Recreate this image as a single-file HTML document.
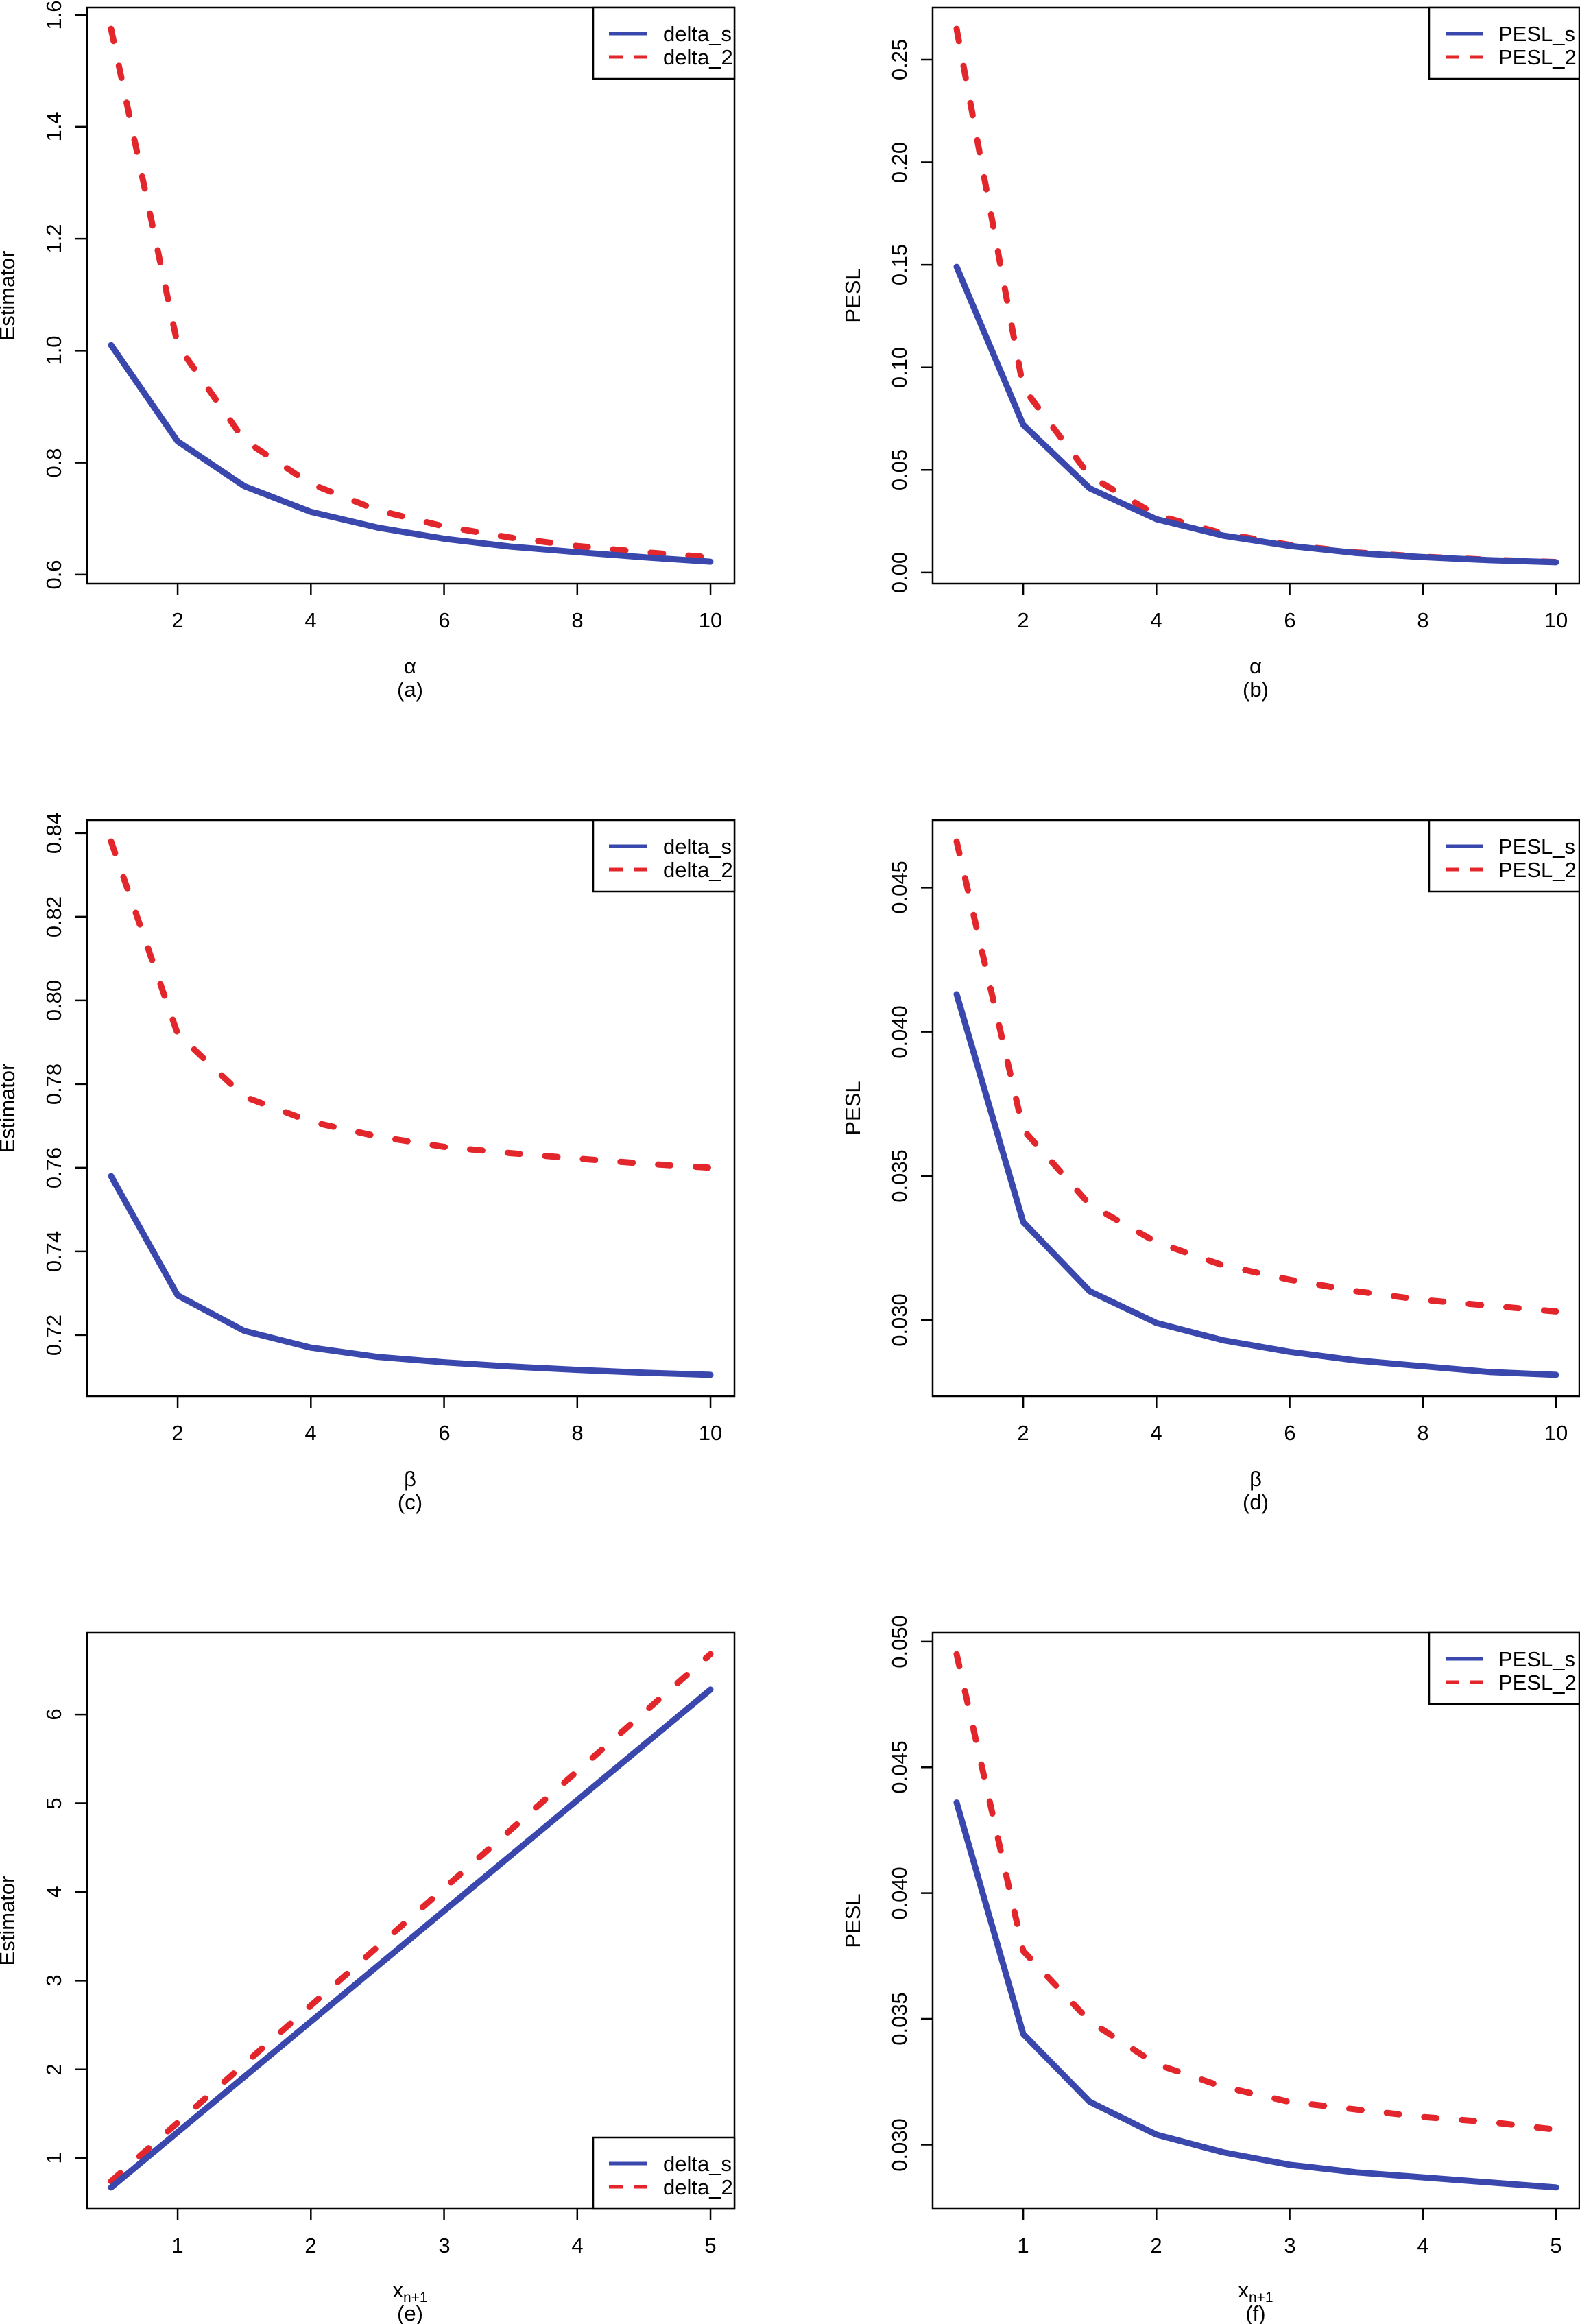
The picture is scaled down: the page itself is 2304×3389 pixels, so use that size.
<!DOCTYPE html>
<html><head><meta charset="utf-8">
<style>
html,body{margin:0;padding:0;background:#fff;}
svg{display:block;}
text{font-family:"Liberation Sans",Arial,sans-serif;font-size:31px;fill:#000;}
</style></head>
<body>
<svg id="s" width="2304" height="3389" viewBox="0 0 2304 3389" xmlns="http://www.w3.org/2000/svg">
<rect width="2304" height="3389" fill="#fff"/>
<g stroke="#000" stroke-width="2.5" fill="none">
<rect x="127" y="11" width="944" height="840"/>
<rect x="1360" y="11" width="943" height="840"/>
<rect x="127" y="1196" width="944" height="840"/>
<rect x="1360" y="1196" width="943" height="840"/>
<rect x="127" y="2381" width="944" height="840"/>
<rect x="1360" y="2381" width="943" height="840"/>
</g>
<g id="ticks" stroke="#000" stroke-width="2.5"></g>
<g id="series"></g>

<!-- Panel a -->
<g text-anchor="middle">
<text x="259" y="915">2</text><text x="453" y="915">4</text><text x="648" y="915">6</text><text x="842" y="915">8</text><text x="1036" y="915">10</text>
<text x="598" y="982">α</text><text x="598" y="1016">(a)</text>
<text transform="translate(89,838) rotate(-90)">0.6</text>
<text transform="translate(89,675) rotate(-90)">0.8</text>
<text transform="translate(89,511) rotate(-90)">1.0</text>
<text transform="translate(89,348) rotate(-90)">1.2</text>
<text transform="translate(89,185) rotate(-90)">1.4</text>
<text transform="translate(89,22) rotate(-90)">1.6</text>
<text transform="translate(21,431) rotate(-90)">Estimator</text>
</g>
<!-- Panel b -->
<g text-anchor="middle">
<text x="1492" y="915">2</text><text x="1686" y="915">4</text><text x="1881" y="915">6</text><text x="2075" y="915">8</text><text x="2269" y="915">10</text>
<text x="1831" y="982">α</text><text x="1831" y="1016">(b)</text>
<text transform="translate(1322,835) rotate(-90)">0.00</text>
<text transform="translate(1322,685) rotate(-90)">0.05</text>
<text transform="translate(1322,536) rotate(-90)">0.10</text>
<text transform="translate(1322,386) rotate(-90)">0.15</text>
<text transform="translate(1322,237) rotate(-90)">0.20</text>
<text transform="translate(1322,87) rotate(-90)">0.25</text>
<text transform="translate(1254,431) rotate(-90)">PESL</text>
</g>
<!-- Panel c -->
<g text-anchor="middle">
<text x="259" y="2100">2</text><text x="453" y="2100">4</text><text x="648" y="2100">6</text><text x="842" y="2100">8</text><text x="1036" y="2100">10</text>
<text x="598" y="2167">β</text><text x="598" y="2201">(c)</text>
<text transform="translate(89,1947) rotate(-90)">0.72</text>
<text transform="translate(89,1825) rotate(-90)">0.74</text>
<text transform="translate(89,1703) rotate(-90)">0.76</text>
<text transform="translate(89,1581) rotate(-90)">0.78</text>
<text transform="translate(89,1459) rotate(-90)">0.80</text>
<text transform="translate(89,1337) rotate(-90)">0.82</text>
<text transform="translate(89,1215) rotate(-90)">0.84</text>
<text transform="translate(21,1616) rotate(-90)">Estimator</text>
</g>
<!-- Panel d -->
<g text-anchor="middle">
<text x="1492" y="2100">2</text><text x="1686" y="2100">4</text><text x="1881" y="2100">6</text><text x="2075" y="2100">8</text><text x="2269" y="2100">10</text>
<text x="1831" y="2167">β</text><text x="1831" y="2201">(d)</text>
<text transform="translate(1322,1925) rotate(-90)">0.030</text>
<text transform="translate(1322,1715) rotate(-90)">0.035</text>
<text transform="translate(1322,1505) rotate(-90)">0.040</text>
<text transform="translate(1322,1294) rotate(-90)">0.045</text>
<text transform="translate(1254,1616) rotate(-90)">PESL</text>
</g>
<!-- Panel e -->
<g text-anchor="middle">
<text x="259" y="3285">1</text><text x="453" y="3285">2</text><text x="648" y="3285">3</text><text x="842" y="3285">4</text><text x="1036" y="3285">5</text>
<text x="598" y="3350">x<tspan font-size="21" dy="7">n+1</tspan></text><text x="598" y="3384">(e)</text>
<text transform="translate(89,3147) rotate(-90)">1</text>
<text transform="translate(89,3018) rotate(-90)">2</text>
<text transform="translate(89,2888) rotate(-90)">3</text>
<text transform="translate(89,2759) rotate(-90)">4</text>
<text transform="translate(89,2630) rotate(-90)">5</text>
<text transform="translate(89,2500) rotate(-90)">6</text>
<text transform="translate(21,2801) rotate(-90)">Estimator</text>
</g>
<!-- Panel f -->
<g text-anchor="middle">
<text x="1492" y="3285">1</text><text x="1686" y="3285">2</text><text x="1881" y="3285">3</text><text x="2075" y="3285">4</text><text x="2269" y="3285">5</text>
<text x="1831" y="3350">x<tspan font-size="21" dy="7">n+1</tspan></text><text x="1831" y="3384">(f)</text>
<text transform="translate(1322,3128) rotate(-90)">0.030</text>
<text transform="translate(1322,2944) rotate(-90)">0.035</text>
<text transform="translate(1322,2761) rotate(-90)">0.040</text>
<text transform="translate(1322,2577) rotate(-90)">0.045</text>
<text transform="translate(1322,2394) rotate(-90)">0.050</text>
<text transform="translate(1254,2801) rotate(-90)">PESL</text>
</g>

<!-- Legends -->
<g stroke="#000" stroke-width="2.5" fill="#fff">
<rect x="865" y="11" width="206" height="104"/>
<rect x="2084" y="11" width="219" height="104"/>
<rect x="865" y="1196" width="206" height="104"/>
<rect x="2084" y="1196" width="219" height="104"/>
<rect x="865" y="3117" width="206" height="104"/>
<rect x="2084" y="2381" width="219" height="104"/>
</g>
<g stroke-width="5">
<line x1="888" y1="49" x2="944" y2="49" stroke="#3a47ad"/>
<line x1="888" y1="83" x2="944" y2="83" stroke="#e3262b" stroke-dasharray="20 16"/>
<line x1="2108" y1="49" x2="2162" y2="49" stroke="#3a47ad"/>
<line x1="2108" y1="83" x2="2162" y2="83" stroke="#e3262b" stroke-dasharray="20 16"/>
<line x1="888" y1="1234" x2="944" y2="1234" stroke="#3a47ad"/>
<line x1="888" y1="1268" x2="944" y2="1268" stroke="#e3262b" stroke-dasharray="20 16"/>
<line x1="2108" y1="1234" x2="2162" y2="1234" stroke="#3a47ad"/>
<line x1="2108" y1="1268" x2="2162" y2="1268" stroke="#e3262b" stroke-dasharray="20 16"/>
<line x1="888" y1="3155" x2="944" y2="3155" stroke="#3a47ad"/>
<line x1="888" y1="3189" x2="944" y2="3189" stroke="#e3262b" stroke-dasharray="20 16"/>
<line x1="2108" y1="2419" x2="2162" y2="2419" stroke="#3a47ad"/>
<line x1="2108" y1="2453" x2="2162" y2="2453" stroke="#e3262b" stroke-dasharray="20 16"/>
</g>
<g>
<text x="967" y="60">delta_s</text><text x="967" y="94">delta_2</text>
<text x="2185" y="60">PESL_s</text><text x="2185" y="94">PESL_2</text>
<text x="967" y="1245">delta_s</text><text x="967" y="1279">delta_2</text>
<text x="2185" y="1245">PESL_s</text><text x="2185" y="1279">PESL_2</text>
<text x="967" y="3166">delta_s</text><text x="967" y="3200">delta_2</text>
<text x="2185" y="2430">PESL_s</text><text x="2185" y="2464">PESL_2</text>
</g>
</svg>
<script>
(function(){
var NS="http://www.w3.org/2000/svg";
var T=document.getElementById("ticks"),S=document.getElementById("series");
function ln(g,x1,y1,x2,y2){var l=document.createElementNS(NS,"line");l.setAttribute("x1",x1);l.setAttribute("y1",y1);l.setAttribute("x2",x2);l.setAttribute("y2",y2);g.appendChild(l);}
var X10=[1,2,3,4,5,6,7,8,9,10],X5=[0.5,1,1.5,2,2.5,3,3.5,4,4.5,5];
var P=[
{x0:127,y0:11,xs:X10,xl:[0.64,10.36],xt:[2,4,6,8,10],yl:[0.5839,1.6131],yt:[0.6,0.8,1.0,1.2,1.4,1.6],
 a:[1.01,0.838,0.758,0.712,0.684,0.664,0.650,0.640,0.631,0.623],
 b:[1.575,1.01,0.84,0.762,0.715,0.686,0.666,0.651,0.640,0.631]},
{x0:1360,y0:11,xs:X10,xl:[0.64,10.36],xt:[2,4,6,8,10],yl:[-0.0054,0.2754],yt:[0,0.05,0.1,0.15,0.2,0.25],
 a:[0.149,0.072,0.041,0.026,0.018,0.013,0.0095,0.0075,0.006,0.005],
 b:[0.265,0.09,0.047,0.028,0.019,0.0135,0.0098,0.0077,0.0062,0.0051]},
{x0:127,y0:1196,xs:X10,xl:[0.64,10.36],xt:[2,4,6,8,10],yl:[0.7054,0.8431],yt:[0.72,0.74,0.76,0.78,0.80,0.82,0.84],
 a:[0.758,0.7295,0.721,0.717,0.7148,0.7135,0.7125,0.7117,0.7110,0.7105],
 b:[0.838,0.792,0.777,0.771,0.7675,0.765,0.7635,0.7622,0.761,0.760]},
{x0:1360,y0:1196,xs:X10,xl:[0.64,10.36],xt:[2,4,6,8,10],yl:[0.02736,0.04734],yt:[0.03,0.035,0.04,0.045],
 a:[0.0413,0.0334,0.0310,0.0299,0.0293,0.0289,0.0286,0.0284,0.0282,0.0281],
 b:[0.0466,0.0366,0.0340,0.0327,0.0319,0.0314,0.0310,0.0307,0.0305,0.0303]},
{x0:127,y0:2381,xs:X5,xl:[0.32,5.18],xt:[1,2,3,4,5],yl:[0.4296,6.9204],yt:[1,2,3,4,5,6],
 a:X5.map(function(v){return 0.67+(v-0.5)*1.2467;}),
 b:X5.map(function(v){return 0.74+(v-0.5)*1.32;})},
{x0:1360,y0:2381,xs:X5,xl:[0.32,5.18],xt:[1,2,3,4,5],yl:[0.02745,0.05035],yt:[0.03,0.035,0.04,0.045,0.05],
 a:[0.0436,0.0344,0.0317,0.0304,0.0297,0.0292,0.0289,0.0287,0.0285,0.0283],
 b:[0.0495,0.0377,0.0349,0.0332,0.0323,0.0317,0.0314,0.0311,0.0309,0.0306]}
];
P.forEach(function(p){
 var W=944,H=840,y1=p.y0+H;
 function px(v){return p.x0+(v-p.xl[0])/(p.xl[1]-p.xl[0])*W;}
 function py(v){return y1-(v-p.yl[0])/(p.yl[1]-p.yl[0])*H;}
 p.xt.forEach(function(v){ln(T,px(v),y1,px(v),y1+17);});
 p.yt.forEach(function(v){ln(T,p.x0,py(v),p.x0-17,py(v));});
 [[p.b,"#e3262b",true],[p.a,"#3a47ad",false]].forEach(function(s){
  var d=s[0].map(function(v,i){return (i?"L":"M")+px(p.xs[i]).toFixed(1)+" "+py(v).toFixed(1);}).join(" ");
  var e=document.createElementNS(NS,"path");e.setAttribute("d",d);e.setAttribute("fill","none");
  e.setAttribute("stroke",s[1]);e.setAttribute("stroke-width","9");e.setAttribute("stroke-linecap","round");e.setAttribute("stroke-linejoin","round");
  if(s[2])e.setAttribute("stroke-dasharray","18 37");
  S.appendChild(e);
 });
});
})();
</script>
</body></html>
